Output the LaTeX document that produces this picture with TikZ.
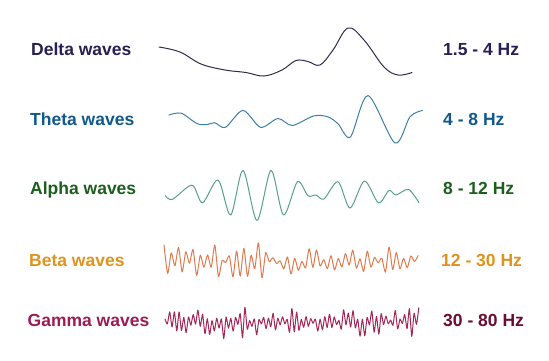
\documentclass[tikz,border=0pt]{standalone}
\usepackage{fontspec}
\setmainfont{Liberation Sans}

\definecolor{deltacol}{HTML}{262152}
\definecolor{deltaline}{HTML}{2E2B4D}
\definecolor{thetacol}{HTML}{11598B}
\definecolor{thetaline}{HTML}{3E7FA6}
\definecolor{alphacol}{HTML}{1C5E1E}
\definecolor{alphaline}{HTML}{56A08C}
\definecolor{betacol}{HTML}{E0931C}
\definecolor{betaline}{HTML}{E07A4F}
\definecolor{gammacol}{HTML}{9B1B55}
\definecolor{gammafreq}{HTML}{6A0C33}
\definecolor{gammaline}{HTML}{A3285A}

\begin{document}
\begin{tikzpicture}[x=1pt, y=-1pt, line cap=round, line join=round,
    label/.style={font=\fontsize{17.5}{18}\selectfont\bfseries, anchor=base west, inner sep=0pt},
    wave/.style={line width=1pt}]

    % ── Page frame (pixel coordinates, y downwards) ─────────────────────────
    \useasboundingbox (0,0) rectangle (549,360);

    % ── Band names (left) ───────────────────────────────────────────────────
    \node[label, deltacol] (delta) at (31,55)    {Delta waves};
    \node[label, thetacol] (theta) at (30,125.5) {Theta waves};
    \node[label, alphacol] (alpha) at (30,194.5) {Alpha waves};
    \node[label, betacol]  (beta)  at (29,266)   {Beta waves};
    \node[label, gammacol] (gamma) at (27.5,326) {Gamma waves};

    % ── Frequency ranges (right) ────────────────────────────────────────────
    \node[label, deltacol]  (deltaHz) at (443,55)    {1.5 - 4 Hz};
    \node[label, thetacol]  (thetaHz) at (443,125.5) {4 - 8 Hz};
    \node[label, alphacol]  (alphaHz) at (443,194.5) {8 - 12 Hz};
    \node[label, betacol]   (betaHz)  at (441,266)   {12 - 30 Hz};
    \node[label, gammafreq] (gammaHz) at (443,326)   {30 - 80 Hz};

    % ── Delta: slow, one big bump ───────────────────────────────────────────
    \draw[wave, deltaline] plot[smooth, tension=0.6] coordinates {
        (159,47) (180,52) (201,64) (225,70) (246,72.5) (264,76) (282,70)
        (296,60.5) (308,61.5) (320,65) (333,50) (348,28) (364,40) (384,67)
        (398,75) (412,72.5)};

    % ── Theta ───────────────────────────────────────────────────────────────
    \draw[wave, thetaline] plot[smooth] coordinates {
        (169,115) (181.3,113.2) (197.2,123.7) (207.7,124.4) (214.8,122.7)
        (225.4,127.3) (243,110.4) (260.6,127.3) (278,118.5) (292.3,125.5)
        (313.4,116) (327.5,116.7) (338,123.7) (350.4,137) (368,95.6)
        (395,143) (410,116.7) (422.5,110.4)};

    % ── Alpha ───────────────────────────────────────────────────────────────
    \draw[wave, alphaline] plot[smooth] coordinates {
        (165.5,195.8) (172.5,199.3) (192,185.2) (202.5,202.8) (218,180)
        (230.6,215) (243,170.4) (257,220.4) (271,170.4) (283.5,215)
        (297.5,181.7) (308,195.8) (316,195) (324,199) (338,181.7) (350,208)
        (364.4,181) (378.5,202.8) (389,190.5) (396,195) (408.5,189.4)
        (419,202.8)};

    % ── Beta: fast, irregular (up/down alternating, random height) ─────────
    \pgfmathsetseed{23}
    \draw[wave, betaline] plot[smooth, tension=0.4, domain=0:70, samples=71, variable=\i]
        ({164+3.63*\i}, {262 - (1-2*mod(\i,2))*(1.5+15*rnd) + 4*rand});

    % ── Gamma: fastest ──────────────────────────────────────────────────────
    \pgfmathsetseed{5}
    \draw[wave, gammaline] plot[smooth, tension=0.35, domain=0:108, samples=109, variable=\i]
        ({165+2.35*\i}, {322 - (1-2*mod(\i,2))*(2+15*pow(rnd,2)) + rand});

\end{tikzpicture}
\end{document}
